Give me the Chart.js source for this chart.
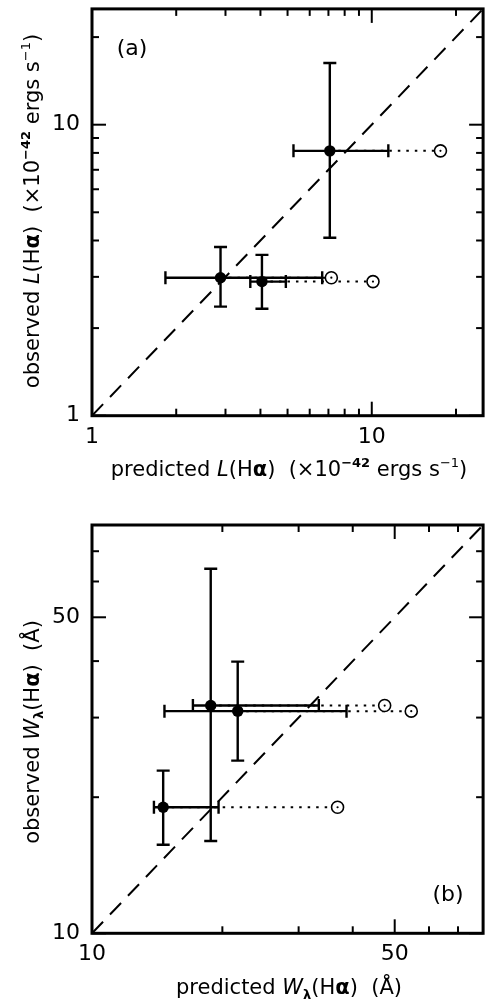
<!DOCTYPE html>
<html lang="en">
<head>
  <meta charset="UTF-8" />
  <meta name="viewport" content="width=device-width, initial-scale=1.0" />
  <title>Predicted vs observed Hα</title>
  <script src="https://cdn.jsdelivr.net/npm/chart.js"></script>
  <style>
    body { margin: 0; background: #fff; overflow: hidden; }
    canvas { display: block; }
  </style>
</head>
<body>
  <canvas id="chartA" width="492" height="490" style="width:492px;height:490px"></canvas>
  <canvas id="chartB" width="492" height="510" style="width:492px;height:510px"></canvas>

  <script>
    // panel (a): L(Hα) in units of 1e42 ergs/s
    const predA   = [7.08, 2.88, 4.05];
    const obsA    = [8.13, 2.98, 2.89];
    const predLoA = [5.25, 1.83, 3.68];
    const predHiA = [11.46, 6.65, 4.93];
    const obsLoA  = [4.09, 2.37, 2.33];
    const obsHiA  = [16.3, 3.80, 3.57];
    const openA   = [17.6, 7.17, 10.1];   // open circles (uncorrected prediction)
    const rangeA  = [1, 25];
    const ticksA  = [1, 2, 3, 4, 5, 6, 7, 8, 9, 10, 20];
    const majorA  = [1, 10];
    const labelsA = [1, 10];

    // panel (b): W_lambda(Hα) in Å
    const predB   = [18.8, 21.7, 14.6];
    const obsB    = [31.9, 31.0, 19.0];
    const predLoB = [17.1, 14.7, 13.9];
    const predHiB = [33.4, 38.7, 19.6];
    const obsLoB  = [16.0, 24.1, 15.7];
    const obsHiB  = [64, 39.9, 22.9];
    const openB   = [47.4, 54.6, 36.9];
    const rangeB  = [10, 80];
    const ticksB  = [10, 20, 30, 40, 50, 60, 70];
    const majorB  = [10, 50];
    const labelsB = [10, 50];

    const FAMILY = '"DejaVu Sans", sans-serif';

    // datasets listed top-most first (chart.js draws the first one last)
    function buildDatasets(pred, obs, predLo, predHi, obsLo, obsHi, open, range) {
      const ds = [];
      ds.push({ data: pred.map((p, i) => ({ x: p, y: obs[i] })),
        pointRadius: 5.7, pointBackgroundColor: '#000', pointBorderWidth: 0 });
      ds.push({ data: open.map((p, i) => ({ x: p, y: obs[i] })),
        pointRadius: 1.1, pointBackgroundColor: '#000', pointBorderWidth: 0 });
      ds.push({ data: open.map((p, i) => ({ x: p, y: obs[i] })),
        pointRadius: 6, pointBackgroundColor: '#fff', pointBorderColor: '#000', pointBorderWidth: 1.6 });
      pred.forEach((p, i) => {
        ds.push({ data: [{ x: p, y: obsLo[i] }, { x: p, y: obsHi[i] }], showLine: true,
          borderColor: '#000', borderWidth: 2.4, pointStyle: 'line', pointRotation: 0,
          pointRadius: 6.5, pointBorderWidth: 2.4, pointBorderColor: '#000' });
        ds.push({ data: [{ x: predLo[i], y: obs[i] }, { x: predHi[i], y: obs[i] }], showLine: true,
          borderColor: '#000', borderWidth: 2.4, pointStyle: 'line', pointRotation: 90,
          pointRadius: 6.5, pointBorderWidth: 2.4, pointBorderColor: '#000' });
      });
      pred.forEach((p, i) => {
        ds.push({ data: [{ x: p, y: obs[i] }, { x: open[i], y: obs[i] }], showLine: true,
          borderColor: '#000', borderWidth: 2, borderDash: [2.5, 6], pointRadius: 0 });
      });
      ds.push({ data: range.map(v => ({ x: v, y: v })), showLine: true,
        borderColor: '#000', borderWidth: 2, borderDash: [16, 10], pointRadius: 0 });
      return ds;
    }

    function logAxis(range, tickVals, majors, labels, pad, fit) {
      return {
        type: 'logarithmic', min: range[0], max: range[1],
        afterBuildTicks: s => { s.ticks = tickVals.map(v => ({ value: v, major: majors.includes(v) })); },
        afterFit: s => {
          fit(s);
          // labels may hang past the plot box; don't let that shrink the box
          s.paddingTop = s.paddingBottom = s.paddingLeft = s.paddingRight = 0;
        },
        grid: { display: false, drawTicks: false },
        border: { display: false },
        ticks: { autoSkip: false, maxRotation: 0, padding: pad, color: '#000',
          font: { family: FAMILY, size: 22 },
          callback: v => labels.includes(v) ? String(v) : '' }
      };
    }

    // box + inward ticks on all four sides
    const framePlugin = {
      id: 'frame',
      afterDatasetsDraw(chart) {
        const { ctx, chartArea: a, scales: { x, y } } = chart;
        ctx.save();
        ctx.strokeStyle = '#000';
        ctx.lineWidth = 2;
        const seg = (x1, y1, x2, y2) => { ctx.beginPath(); ctx.moveTo(x1, y1); ctx.lineTo(x2, y2); ctx.stroke(); };
        x.ticks.forEach(t => {
          const px = x.getPixelForValue(t.value), len = t.major ? 14 : 7;
          seg(px, a.bottom, px, a.bottom - len);
          seg(px, a.top, px, a.top + len);
        });
        y.ticks.forEach(t => {
          const py = y.getPixelForValue(t.value), len = t.major ? 14 : 7;
          seg(a.left, py, a.left + len, py);
          seg(a.right, py, a.right - len, py);
        });
        ctx.lineWidth = 3;
        ctx.strokeRect(a.left, a.top, a.right - a.left, a.bottom - a.top);
        ctx.restore();
      }
    };

    // axis titles with italic / bold / super- and subscript pieces
    function drawRich(ctx, parts, cx, cy, angle, size) {
      const fontFor = st => `${st.includes('i') ? 'italic ' : ''}${st.includes('b') ? 'bold ' : ''}` +
        `${(st.includes('u') || st.includes('d')) ? Math.round(size * 0.62) : size}px ${FAMILY}`;
      ctx.save();
      ctx.translate(cx, cy);
      ctx.rotate(angle);
      ctx.fillStyle = '#000';
      ctx.textBaseline = 'alphabetic';
      let w = 0;
      parts.forEach(([t, st]) => { ctx.font = fontFor(st); w += ctx.measureText(t).width; });
      let x = -w / 2;
      parts.forEach(([t, st]) => {
        ctx.font = fontFor(st);
        const dy = st.includes('u') ? -size * 0.42 : st.includes('d') ? size * 0.22 : 0;
        ctx.fillText(t, x, size * 0.36 + dy);
        x += ctx.measureText(t).width;
      });
      ctx.restore();
    }

    const titlesPlugin = {
      id: 'titles',
      afterDraw(chart, args, opts) {
        const ctx = chart.ctx;
        drawRich(ctx, opts.xParts, opts.xPos[0], opts.xPos[1], 0, opts.size);
        drawRich(ctx, opts.yParts, opts.yPos[0], opts.yPos[1], -Math.PI / 2, opts.size);
        ctx.save();
        ctx.font = `22px ${FAMILY}`;
        ctx.textAlign = 'center';
        ctx.textBaseline = 'middle';
        ctx.fillText(opts.tag, opts.tagPos[0], opts.tagPos[1]);
        ctx.restore();
      }
    };

    function makeChart(id, datasets, xAxis, yAxis, padTop, titles) {
      return new Chart(document.getElementById(id), {
        type: 'scatter',
        data: { datasets },
        options: {
          responsive: false,
          animation: false,
          events: [],
          layout: { padding: { top: padTop, right: 5, left: 0, bottom: 0 } },
          scales: { x: xAxis, y: yAxis },
          plugins: { legend: { display: false }, tooltip: { enabled: false }, titles }
        },
        plugins: [framePlugin, titlesPlugin]
      });
    }

    const lumUnit = [[')  (×10', ''], ['−42', 'bu'], [' ergs s', ''], ['−1', 'u'], [')', '']];

    makeChart('chartA',
      buildDatasets(predA, obsA, predLoA, predHiA, obsLoA, obsHiA, openA, rangeA),
      logAxis(rangeA, ticksA, majorA, labelsA, 8, s => { s.height = 74.3; }),
      logAxis(rangeA, ticksA, majorA, labelsA, 12, s => { s.width = 92; }),
      6,
      {
        size: 21,
        xParts: [['predicted ', ''], ['L', 'i'], ['(H', ''], ['α', 'b'], ...lumUnit],
        yParts: [['observed ', ''], ['L', 'i'], ['(H', ''], ['α', 'b'], ...lumUnit],
        xPos: [289, 468], yPos: [31, 211],
        tag: '(a)', tagPos: [132, 49]
      });

    makeChart('chartB',
      buildDatasets(predB, obsB, predLoB, predHiB, obsLoB, obsHiB, openB, rangeB),
      logAxis(rangeB, ticksB, majorB, labelsB, 8, s => { s.height = 66.7; }),
      logAxis(rangeB, ticksB, majorB, labelsB, 12, s => { s.width = 92; }),
      35,
      {
        size: 21,
        xParts: [['predicted ', ''], ['W', 'i'], ['λ', 'bd'], ['(H', ''], ['α', 'b'], [')  (Å)', '']],
        yParts: [['observed ', ''], ['W', 'i'], ['λ', 'bd'], ['(H', ''], ['α', 'b'], [')  (Å)', '']],
        xPos: [289, 496.7], yPos: [31, 242],
        tag: '(b)', tagPos: [448, 405]
      });
  </script>
</body>
</html>
